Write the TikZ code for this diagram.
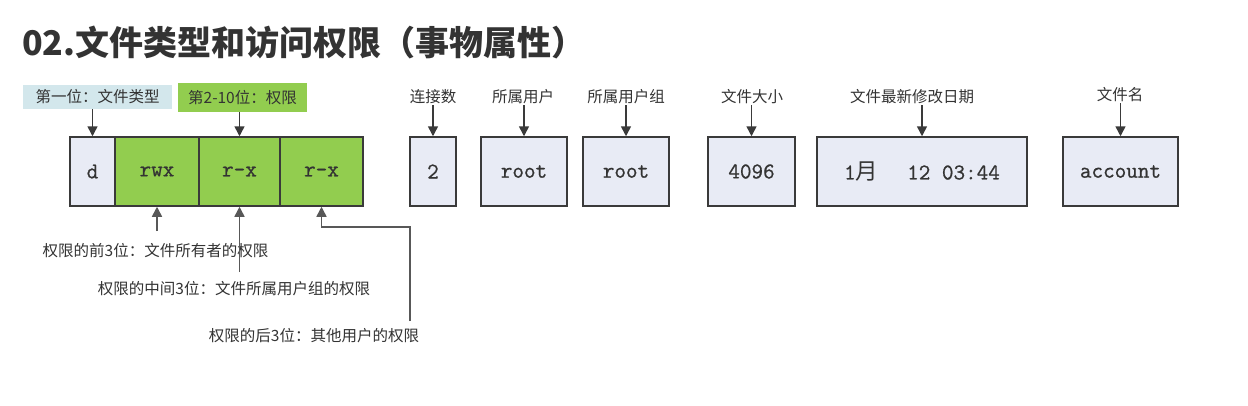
\documentclass[tikz,border=0pt]{standalone}
\usepackage{fontspec}
\newfontfamily\cjk{Noto Sans CJK SC}
\newfontfamily\monof{Latin Modern Mono}[FakeBold=0.8]
\usetikzlibrary{arrows.meta}
\definecolor{lav}{HTML}{E8EBF5}
\definecolor{lblblue}{HTML}{D3E7EC}
\definecolor{grn}{HTML}{92CD4F}
\definecolor{edgec}{HTML}{3A3A3A}
\definecolor{txtc}{HTML}{333333}
\tikzset{
  field/.style={draw=edgec, line width=1.5pt, inner sep=0pt, minimum height=69pt,
    font=\monof\fontsize{22.5}{26}\selectfont, text=txtc},
  lavfield/.style={field, fill=lav},
  grnfield/.style={field, fill=grn},
  lbl/.style={inner sep=1pt, font=\cjk\fontsize{15.5}{18}\selectfont, text=txtc},
  arr/.style={draw=edgec, line width=1.5pt, -{Triangle[width=10pt,length=10pt]}},
  garr/.style={arr, draw=edgec!85!white},
}
\begin{document}
\begin{tikzpicture}[x=1pt,y=-1pt]
\useasboundingbox (0,0) rectangle (1248,405);
\fill[white] (0,0) rectangle (1248,405);
% title
\node[anchor=west, inner sep=0pt, text=txtc, font=\cjk\bfseries\fontsize{34}{40}\selectfont] (title) at (22,42) {02.文件类型和访问权限（事物属性）};
% header label boxes
\node[lbl, fill=lblblue, minimum width=149pt, minimum height=24pt, inner sep=0pt] (lab1) at (97.5,97) {第一位：文件类型};
\node[lbl, fill=grn, minimum width=129pt, minimum height=29pt, inner sep=0pt] (lab2) at (242.5,97.5) {第2-10位：权限};
% fields
\node[lavfield, minimum width=45pt] (d) at (92.5,171.5) {d};
\node[grnfield, minimum width=84pt] (rwx) at (157,171.5) {rwx};
\node[grnfield, minimum width=81pt] (rx1) at (239.5,171.5) {r-x};
\node[grnfield, minimum width=83pt] (rx2) at (321.5,171.5) {r-x};
\node[lavfield, minimum width=46pt] (two) at (433,171.5) {2};
\node[lavfield, minimum width=86pt] (root1) at (524,171.5) {root};
\node[lavfield, minimum width=86pt] (root2) at (626,171.5) {root};
\node[lavfield, minimum width=87pt] (size) at (751.5,171.5) {4096};
\node[lavfield, minimum width=210pt] (date) at (922,171.5) {1{\cjk 月}\hspace{29pt}12 03:44};
\node[lavfield, minimum width=115pt] (name) at (1120.5,171.5) {account};
% top labels
\node[lbl] (l2) at (433,97) {连接数};
\node[lbl] (l3) at (523,97) {所属用户};
\node[lbl] (l4) at (626,97) {所属用户组};
\node[lbl] (l5) at (752,97) {文件大小};
\node[lbl] (l6) at (912,97) {文件最新修改日期};
\node[lbl] (l7) at (1120,95) {文件名};
% top arrows
\draw[arr] (lab1.south -| d.north) -- (d.north);
\draw[arr] (lab2.south -| rx1.north) -- (rx1.north);
\draw[arr] (l2.south -| two.north) -- (two.north);
\draw[arr] (l3.south -| root1.north) -- (root1.north);
\draw[arr] (l4.south -| root2.north) -- (root2.north);
\draw[arr] (l5.south -| size.north) -- (size.north);
\draw[arr] (l6.south -| date.north) -- (date.north);
\draw[arr] (l7.south -| name.north) -- (name.north);
% bottom texts
\node[lbl] (t1) at (155.5,251) {权限的前3位：文件所有者的权限};
\node[lbl] (t2) at (234,289) {权限的中间3位：文件所属用户组的权限};
\node[lbl] (t3) at (314,336) {权限的后3位：其他用户的权限};
% bottom arrows
\coordinate (b1) at (157,231);
\coordinate (b2) at (239.5,272);
\coordinate (b3) at (410,321);
\coordinate (k) at (321.5,227);
\draw[garr] (b1) -- (b1 |- rwx.south);
\draw[garr] (b2) -- (b2 |- rx1.south);
\draw[garr] (b3) |- (k) -- (rx2.south);
\end{tikzpicture}
\end{document}
